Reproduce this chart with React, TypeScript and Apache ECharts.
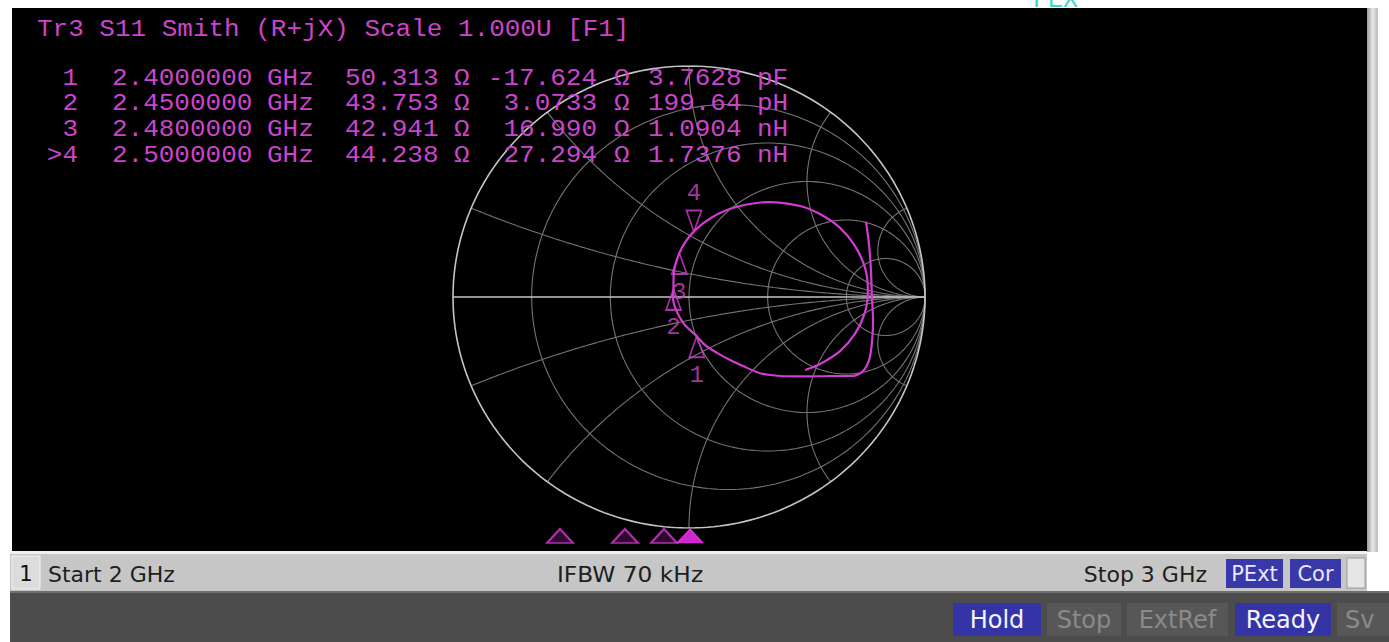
import React, { useEffect, useRef } from "react";
import * as echarts from "echarts";

// ---- data ----
const titleText = "Tr3 S11 Smith (R+jX) Scale 1.000U [F1]";
const markerIds = ["1", "2", "3", ">4"];
const markerLabels = ["1", "2", "3", "4"];
const markerFreqGHz = [2.4, 2.45, 2.48, 2.5];
const markerFreqText = ["2.4000000", "2.4500000", "2.4800000", "2.5000000"];
const markerR = [50.313, 43.753, 42.941, 44.238];
const markerX = [-17.624, 3.0733, 16.99, 27.294];
const markerRText = ["50.313", "43.753", "42.941", "44.238"];
const markerXText = ["-17.624", "3.0733", "16.990", "27.294"];
const markerLCText = ["3.7628", "199.64", "1.0904", "1.7376"];
const markerLCUnit = ["pF", "pH", "nH", "nH"];
const z0 = 50;

const resistanceCircles = [0.2, 0.5, 1, 2, 5];
const reactanceArcs = [0.2, 0.5, 1, 2, 5];

// S11 trace (reflection coefficient, real / imaginary), 2 GHz -> 3 GHz
const traceRe = [0.75, 0.763, 0.771, 0.775, 0.78, 0.775, 0.763, 0.733, 0.682, 0.597, 0.492, 0.386, 0.301, 0.229, 0.174, 0.119, 0.068, 0.033, -0.021, -0.055, -0.068, -0.066, -0.064, -0.041, -0.013, 0.021, 0.068, 0.131, 0.216, 0.339, 0.47, 0.555, 0.64, 0.703, 0.746, 0.758, 0.746, 0.703, 0.64, 0.555, 0.492];
const traceIm = [0.325, 0.225, 0.117, 0.0, -0.1, -0.199, -0.273, -0.325, -0.342, -0.342, -0.344, -0.342, -0.33, -0.299, -0.273, -0.242, -0.208, -0.17, -0.117, -0.056, 0.0, 0.035, 0.108, 0.19, 0.242, 0.284, 0.325, 0.364, 0.394, 0.411, 0.394, 0.359, 0.299, 0.221, 0.126, 0.026, -0.065, -0.16, -0.234, -0.29, -0.316];

const statusStart = "Start 2 GHz";
const statusIfbw = "IFBW 70 kHz";
const statusStop = "Stop 3 GHz";
const channelNo = "1";
const flagBoxes = ["PExt", "Cor"];
const bottomButtons = ["Hold", "Stop", "ExtRef", "Ready", "Sv"];
const bottomActive = [true, false, false, true, false];

// ---- helpers ----
function gamma(R: number, X: number): [number, number] {
  const zr = R / z0, zi = X / z0;
  const den = (zr + 1) * (zr + 1) + zi * zi;
  return [(zr * zr + zi * zi - 1) / den, (2 * zi) / den];
}
function resistanceCircle(r: number) {
  const cx = r / (r + 1), rad = 1 / (r + 1);
  const pts: number[][] = [];
  for (let i = 0; i <= 240; i++) {
    const t = (i / 240) * 2 * Math.PI;
    pts.push([cx + rad * Math.cos(t), rad * Math.sin(t)]);
  }
  return pts;
}
function reactanceArc(x: number) {
  const ax = Math.abs(x), R = 1 / ax, s = Math.sign(x);
  const ix = (ax * ax - 1) / (ax * ax + 1), iy = (2 * ax) / (ax * ax + 1);
  let te = Math.atan2(iy - R, ix - 1);
  if (te > -Math.PI / 2) te -= 2 * Math.PI;
  const pts: number[][] = [];
  for (let i = 0; i <= 200; i++) {
    const t = -Math.PI / 2 + ((te + Math.PI / 2) * i) / 200;
    pts.push([1 + R * Math.cos(t), s * (R + R * Math.sin(t))]);
  }
  return pts;
}

const MAG = "#cc44cc";
const TRACE = "#d23cd2";
const GRID = "#747474";
const OUTER = "#c4c4c4";
const MONO = '"Liberation Mono", "DejaVu Sans Mono", monospace';
const SANS = '"DejaVu Sans", "Liberation Sans", sans-serif';

export default function App() {
  const ref = useRef<HTMLDivElement>(null);
  useEffect(() => {
    const el = ref.current!;
    const chart = echarts.init(el, undefined, { renderer: "svg", width: 1389, height: 642 });

    const series: any[] = [];
    resistanceCircles.forEach((r) =>
      series.push({ type: "line", data: resistanceCircle(r), showSymbol: false, silent: true, z: 2, lineStyle: { color: GRID, width: 1.1 } })
    );
    reactanceArcs.forEach((x) => {
      [x, -x].forEach((v) =>
        series.push({ type: "line", data: reactanceArc(v), showSymbol: false, silent: true, z: 2, lineStyle: { color: GRID, width: 1.1 } })
      );
    });
    series.push({ type: "line", data: resistanceCircle(0), showSymbol: false, silent: true, z: 2, lineStyle: { color: OUTER, width: 1.6 } });
    series.push({ type: "line", data: [[-1, 0], [1, 0]], showSymbol: false, silent: true, z: 2, lineStyle: { color: OUTER, width: 1.6 } });

    series.push({
      type: "line",
      data: traceRe.map((v, i) => [v, traceIm[i]]),
      showSymbol: false,
      smooth: 0.3,
      silent: true,
      z: 3,
      lineStyle: { color: TRACE, width: 2.2 },
    });

    const mg = markerR.map((r, i) => gamma(r, markerX[i]));
    series.push({
      type: "scatter",
      z: 4,
      silent: true,
      data: mg.map((g, i) =>
        i < 3
          ? { value: g, symbol: "triangle", symbolSize: [15, 21], symbolOffset: [0, 10.5], symbolRotate: 0 }
          : { value: g, symbol: "triangle", symbolSize: [15, 21], symbolOffset: [0, -10.5], symbolRotate: 180 }
      ),
      itemStyle: { color: "rgba(0,0,0,0)", borderColor: TRACE, borderWidth: 1.8 },
    });
    series.push({
      type: "scatter",
      z: 5,
      silent: true,
      symbolSize: 1,
      itemStyle: { color: "rgba(0,0,0,0)" },
      data: mg.map((g, i) => ({
        value: g,
        label: {
          show: true,
          position: "inside",
          offset: [0, i < 3 ? 39 : -38],
          formatter: markerLabels[i],
          color: MAG,
          fontFamily: MONO,
          fontSize: 24,
        },
      })),
    });

    // stimulus markers along bottom
    series.push({
      type: "scatter",
      xAxisIndex: 1,
      yAxisIndex: 1,
      z: 4,
      silent: true,
      symbol: "triangle",
      symbolSize: [26, 14],
      data: markerFreqGHz.map((f, i) => ({
        value: [f, 0.5],
        itemStyle:
          i === markerFreqGHz.length - 1
            ? { color: "#ff33ff", borderColor: "#ff33ff", borderWidth: 1 }
            : { color: "#3a0a3a", borderColor: TRACE, borderWidth: 2 },
      })),
    });

    const graphic: any[] = [];
    const txt = (x: number, y: number, text: string, font: string, fill: string, align = "left", sx = 1) => ({
      type: "text",
      x,
      y,
      z: 10,
      scaleX: sx,
      silent: true,
      style: { text, font, fill, align, textAlign: align, verticalAlign: "middle", textVerticalAlign: "middle" },
    });
    const rect = (x: number, y: number, w: number, h: number, fill: any, z = -5, stroke?: string) => ({
      type: "rect",
      z,
      silent: true,
      shape: { x, y, width: w, height: h },
      style: stroke ? { fill, stroke, lineWidth: 1 } : { fill },
    });

    graphic.push(rect(12, 8, 1355, 543, "#000000", -10));
    graphic.push(
      rect(1367, 8, 11, 544, {
        type: "linear", x: 0, y: 0, x2: 1, y2: 0,
        colorStops: [{ offset: 0, color: "#9a9a9a" }, { offset: 0.5, color: "#e6e6e6" }, { offset: 1, color: "#bcbcbc" }],
      }, -10)
    );
    // status bar
    graphic.push(rect(10, 551, 1357, 3, "#f0f0f0", -10));
    graphic.push(rect(10, 554, 1357, 37, "#c6c6c6", -10));
    graphic.push(rect(12, 556, 28, 33, "#dcdcdc", -9, "#f4f4f4"));
    graphic.push(txt(26, 574, channelNo, `21px ${SANS}`, "#111111", "center"));
    graphic.push(txt(48, 574, statusStart, `22px ${SANS}`, "#1e1e1e"));
    graphic.push(txt(630, 574, statusIfbw, `22px ${SANS}`, "#1e1e1e", "center", 1.06));
    graphic.push(txt(1207, 574, statusStop, `22px ${SANS}`, "#1e1e1e", "right"));
    const flagX = [1226, 1290];
    const flagW = [57, 51];
    flagBoxes.forEach((f, i) => {
      graphic.push(rect(flagX[i], 559, flagW[i], 29, "#3838a8", -9));
      graphic.push(txt(flagX[i] + flagW[i] / 2, 574, f, `21px ${SANS}`, "#e8e8ff", "center"));
    });
    graphic.push(rect(1347, 558, 18, 30, "#e6e6e6", -9, "#9a9a9a"));

    // bottom bar
    graphic.push(rect(10, 591, 1379, 51, "#4c4c4c", -10));
    graphic.push(rect(10, 591, 1379, 2, "#6e6e6e", -9));
    const btnX = [953, 1047, 1127, 1235, 1337];
    const btnW = [88, 74, 101, 96, 60];
    bottomButtons.forEach((b, i) => {
      graphic.push(rect(btnX[i], 603, btnW[i], 33, bottomActive[i] ? "#3434a6" : "#575757", -9));
      graphic.push(
        txt(i === 4 ? btnX[i] + 8 : btnX[i] + btnW[i] / 2, 620, b, `24px ${SANS}`, bottomActive[i] ? "#f4f4ff" : "#8a8a8a", i === 4 ? "left" : "center")
      );
    });

    // header texts
    const HF = `23px ${MONO}`;
    const SX = 1.13;
    graphic.push(txt(37, 30, titleText, HF, MAG, "left", SX));
    const rowY = [79, 104, 130, 156];
    markerIds.forEach((id, i) => {
      const y = rowY[i];
      graphic.push(txt(78, y, id, HF, MAG, "right", SX));
      graphic.push(txt(112, y, markerFreqText[i], HF, MAG, "left", SX));
      graphic.push(txt(267, y, "GHz", HF, MAG, "left", SX));
      graphic.push(txt(345, y, markerRText[i], HF, MAG, "left", SX));
      graphic.push(txt(454, y, "Ω", HF, MAG, "left", SX));
      graphic.push(txt(597, y, markerXText[i], HF, MAG, "right", SX));
      graphic.push(txt(614, y, "Ω", HF, MAG, "left", SX));
      graphic.push(txt(648, y, markerLCText[i], HF, MAG, "left", SX));
      graphic.push(txt(757, y, markerLCUnit[i], HF, MAG, "left", SX));
    });
    graphic.push({
      type: "text", x: 1033, y: 13, z: 10, silent: true,
      style: { text: "FEX", font: `25px ${MONO}`, fill: "#3fd6c6", align: "left", textAlign: "left", verticalAlign: "bottom", textVerticalAlign: "bottom" },
    });

    chart.setOption({
      animation: false,
      backgroundColor: "#ffffff",
      grid: [
        { left: 453, top: 66, width: 472, height: 462 },
        { left: 40, top: 529, width: 1300, height: 14 },
      ],
      xAxis: [
        { type: "value", gridIndex: 0, min: -1, max: 1, show: false },
        { type: "value", gridIndex: 1, min: 2, max: 3, show: false },
      ],
      yAxis: [
        { type: "value", gridIndex: 0, min: -1, max: 1, show: false },
        { type: "value", gridIndex: 1, min: 0, max: 1, show: false },
      ],
      graphic,
      series,
    });
    return () => chart.dispose();
  }, []);
  return <div ref={ref} style={{ position: "fixed", left: 0, top: 0, width: 1389, height: 642 }} />;
}
